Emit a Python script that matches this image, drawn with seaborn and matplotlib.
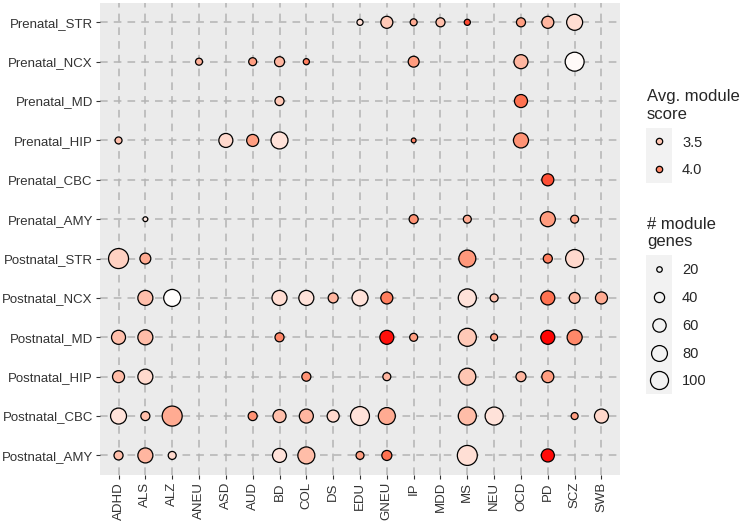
import numpy as np
import pandas as pd
import matplotlib
matplotlib.use("Agg")
import matplotlib.pyplot as plt
from matplotlib.colors import LinearSegmentedColormap, Normalize
from matplotlib.lines import Line2D
from matplotlib.patches import Rectangle
import seaborn as sns

traits = ["ADHD", "ALS", "ALZ", "ANEU", "ASD", "AUD", "BD", "COL", "DS", "EDU",
          "GNEU", "IP", "MDD", "MS", "NEU", "OCD", "PD", "SCZ", "SWB"]
tissues = ["Prenatal_STR", "Prenatal_NCX", "Prenatal_MD", "Prenatal_HIP",
           "Prenatal_CBC", "Prenatal_AMY", "Postnatal_STR", "Postnatal_NCX",
           "Postnatal_MD", "Postnatal_HIP", "Postnatal_CBC", "Postnatal_AMY"]
row_counts = [8, 7, 2, 6, 1, 5, 5, 12, 9, 7, 13, 9]

trait = [
    "EDU", "GNEU", "IP", "MDD", "MS", "OCD", "PD", "SCZ",
    "ANEU", "AUD", "BD", "COL", "IP", "OCD", "SCZ",
    "BD", "OCD",
    "ADHD", "ASD", "AUD", "BD", "IP", "OCD",
    "PD",
    "ALS", "IP", "MS", "PD", "SCZ",
    "ADHD", "ALS", "MS", "PD", "SCZ",
    "ALS", "ALZ", "BD", "COL", "DS", "EDU", "GNEU", "MS", "NEU", "PD", "SCZ", "SWB",
    "ADHD", "ALS", "BD", "GNEU", "IP", "MS", "NEU", "PD", "SCZ",
    "ADHD", "ALS", "COL", "GNEU", "MS", "OCD", "PD",
    "ADHD", "ALS", "ALZ", "AUD", "BD", "COL", "DS", "EDU", "GNEU", "MS", "NEU", "SCZ", "SWB",
    "ADHD", "ALS", "ALZ", "BD", "COL", "EDU", "GNEU", "MS", "PD",
]
score = [
    3.28, 3.47, 3.72, 3.55, 4.37, 3.83, 3.63, 3.30,
    3.68, 3.83, 3.63, 4.08, 3.85, 3.63, 3.05,
    3.47, 4.17,
    3.55, 3.33, 3.83, 3.25, 4.05, 3.92,
    4.35,
    3.20, 3.92, 3.72, 3.85, 3.83,
    3.40, 3.72, 3.88, 4.08, 3.33,
    3.55, 3.02, 3.30, 3.25, 3.63, 3.25, 4.08, 3.25, 3.55, 4.17, 3.63, 3.72,
    3.55, 3.57, 4.00, 4.60, 3.83, 3.47, 3.83, 4.65, 4.00,
    3.57, 3.33, 3.92, 3.63, 3.50, 3.63, 3.83,
    3.25, 3.55, 3.72, 3.92, 3.55, 3.63, 3.33, 3.25, 3.72, 3.57, 3.25, 3.83, 3.35,
    3.55, 3.63, 3.33, 3.25, 3.57, 3.83, 4.17, 3.28, 4.62,
]
genes = [
    22, 51, 25, 34, 22, 34, 51, 81,
    25, 29, 39, 22, 44, 65, 109,
    34, 58,
    25, 65, 51, 90, 18, 73,
    51,
    18, 34, 29, 73, 29,
    120, 44, 90, 34, 100,
    73, 90, 73, 73, 39, 81, 51, 100, 29, 65, 44, 51,
    65, 73, 34, 65, 29, 100, 25, 65, 73,
    51, 73, 34, 29, 90, 39, 51,
    81, 34, 120, 34, 58, 65, 51, 109, 90, 100, 100, 25, 65,
    34, 73, 29, 65, 90, 29, 39, 120, 58,
]

tissue = [t for t, n in zip(tissues, row_counts) for _ in range(n)]
df = pd.DataFrame({"tissue": tissue, "trait": trait, "score": score, "genes": genes})
df["x"] = pd.Categorical(df["trait"], categories=traits).codes
df["y"] = pd.Categorical(df["tissue"], categories=tissues).codes

cmap = LinearSegmentedColormap.from_list(
    "wr", [(0, "#ffffff"), (0.25, "#ffcfbf"), (0.5, "#ff9e81"), (0.75, "#ff6846"), (1, "#ff0000")])
norm = Normalize(3.0, 4.67)
SIZES = (10, 207)
SIZE_NORM = (17, 120)


def size_of(v):
    return SIZES[0] + (SIZES[1] - SIZES[0]) * (v - SIZE_NORM[0]) / (SIZE_NORM[1] - SIZE_NORM[0])


sns.set_theme(style="darkgrid")
plt.rcParams["font.family"] = ["Liberation Sans", "DejaVu Sans"]

fig = plt.figure(figsize=(7.5, 5.25), dpi=100)
ax = fig.add_axes([0.133, 0.095, 0.694, 0.9])
ax.set_facecolor("#ebebeb")

sns.scatterplot(data=df, x="x", y="y", hue="score", size="genes",
                palette=cmap, hue_norm=norm, sizes=SIZES, size_norm=SIZE_NORM,
                edgecolor="black", linewidth=0.9, legend=False, ax=ax, zorder=3)

ax.set_xticks(range(len(traits)))
ax.set_xticklabels(traits, rotation=90)
ax.set_yticks(range(len(tissues)))
ax.set_yticklabels(tissues)
ax.set_xlim(-0.7, len(traits) - 0.3)
ax.set_ylim(len(tissues) - 0.5, -0.5)
ax.set_xlabel("")
ax.set_ylabel("")
ax.grid(True, color="#b3b3b3", linestyle=(0, (5, 4)), linewidth=1.1)
ax.set_axisbelow(True)
for s in ax.spines.values():
    s.set_visible(False)
ax.tick_params(axis="both", length=3, width=0.8, color="#333333",
               labelsize=9.5, labelcolor="#333333", pad=2, bottom=True, left=True)

# legends
leg_kw = dict(loc="upper left", frameon=False, fontsize=10.5, title_fontsize=12,
              labelspacing=0.95, handletextpad=0.8, handlelength=1.6,
              borderpad=0, borderaxespad=0, alignment="left")
h_col = [Line2D([], [], marker="o", linestyle="", markersize=4.6,
                markerfacecolor=cmap(norm(v)), markeredgecolor="black",
                markeredgewidth=0.9) for v in [3.5, 4.0]]
leg1 = fig.legend(h_col, ["3.5", "4.0"], title="Avg. module\nscore",
                  bbox_to_anchor=(0.8627, 0.830), **leg_kw)
size_breaks = [20, 40, 60, 80, 100]
h_size = [Line2D([], [], marker="o", linestyle="", markersize=np.sqrt(size_of(v)),
                 markerfacecolor="none", markeredgecolor="black",
                 markeredgewidth=0.9) for v in size_breaks]
leg2 = fig.legend(h_size, [str(v) for v in size_breaks], title="# module\ngenes",
                  bbox_to_anchor=(0.8627, 0.587), **leg_kw)

fig.canvas.draw()
r = fig.canvas.get_renderer()
for leg in (leg1, leg2):
    boxes = [h.get_window_extent(r) for h in leg.legend_handles]
    cx = np.mean([(b.x0 + b.x1) / 2 for b in boxes])
    cys = [(b.y0 + b.y1) / 2 for b in boxes]
    y0 = min(cys) - 13.5
    y1 = max(cys) + 13.5
    fig.patches.append(Rectangle((cx - 13, y0), 26, y1 - y0, transform=None,
                                 facecolor="#f2f2f2", edgecolor="none", zorder=-1))

fig.savefig("out.png", dpi=100)
